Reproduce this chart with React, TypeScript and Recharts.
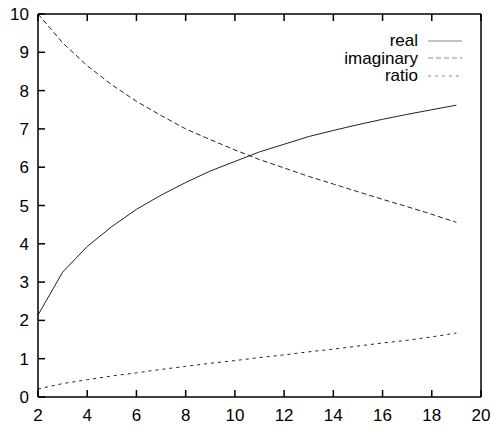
import React from 'react';
import { LineChart, Line, XAxis, YAxis } from 'recharts';

const xValues = [2, 3, 4, 5, 6, 7, 8, 9, 10, 11, 12, 13, 14, 15, 16, 17, 18, 19];
const realValues = [2.14, 3.26, 3.93, 4.45, 4.9, 5.27, 5.6, 5.9, 6.15, 6.4, 6.6, 6.8, 6.96, 7.11, 7.25, 7.38, 7.5, 7.62];
const imaginaryValues = [10, 9.25, 8.65, 8.15, 7.72, 7.35, 7.0, 6.72, 6.45, 6.2, 5.98, 5.76, 5.56, 5.36, 5.16, 4.97, 4.77, 4.56];
const ratioValues = [0.21, 0.35, 0.45, 0.55, 0.63, 0.72, 0.8, 0.88, 0.95, 1.03, 1.1, 1.18, 1.25, 1.33, 1.41, 1.48, 1.57, 1.67];
const xTicks = [2, 4, 6, 8, 10, 12, 14, 16, 18, 20];
const yTicks = [0, 1, 2, 3, 4, 5, 6, 7, 8, 9, 10];
const seriesNames = ['real', 'imaginary', 'ratio'];
const seriesDashes = ['', '5 3', '3 4'];

const data = xValues.map((x, i) => ({
  x,
  real: realValues[i],
  imaginary: imaginaryValues[i],
  ratio: ratioValues[i],
}));

const FONT = '"Liberation Sans", Arial, Helvetica, sans-serif';
const tickStyle = { fill: '#000', fontSize: 17, fontFamily: FONT };
const axisLine = { stroke: '#000', strokeWidth: 1.5 };
const tickLine = { stroke: '#000', strokeWidth: 1.5 };

export default function App() {
  return (
    <div style={{ position: 'absolute', left: 0, top: 0, width: 492, height: 426, background: '#fff' }}>
      <LineChart
        width={492}
        height={426}
        data={data}
        margin={{ top: 13, right: 10, bottom: 0, left: 0 }}
      >
        <XAxis
          xAxisId="bottom"
          dataKey="x"
          type="number"
          domain={[2, 20]}
          ticks={xTicks}
          interval={0}
          height={29}
          axisLine={axisLine}
          tickLine={tickLine}
          tickSize={-7}
          tickMargin={19}
          tick={tickStyle}
        />
        <XAxis
          xAxisId="top"
          orientation="top"
          dataKey="x"
          type="number"
          domain={[2, 20]}
          ticks={xTicks}
          interval={0}
          height={1}
          axisLine={axisLine}
          tickLine={tickLine}
          tickSize={-7}
          tickFormatter={() => ''}
        />
        <YAxis
          yAxisId="left"
          type="number"
          domain={[0, 10]}
          ticks={yTicks}
          interval={0}
          width={38}
          axisLine={axisLine}
          tickLine={tickLine}
          tickSize={-7}
          tickMargin={16}
          tick={tickStyle}
        />
        <YAxis
          yAxisId="right"
          orientation="right"
          type="number"
          domain={[0, 10]}
          ticks={yTicks}
          interval={0}
          width={1}
          axisLine={axisLine}
          tickLine={tickLine}
          tickSize={-7}
          tickFormatter={() => ''}
        />
        <Line xAxisId="bottom" yAxisId="left" type="linear" dataKey="real" name="real"
          stroke="#222" strokeWidth={1} dot={false} isAnimationActive={false} />
        <Line xAxisId="bottom" yAxisId="left" type="linear" dataKey="imaginary" name="imaginary"
          stroke="#222" strokeWidth={1} strokeDasharray="5 3" dot={false} isAnimationActive={false} />
        <Line xAxisId="bottom" yAxisId="left" type="linear" dataKey="ratio" name="ratio"
          stroke="#222" strokeWidth={1} strokeDasharray="3 4" dot={false} isAnimationActive={false} />
      </LineChart>
      <div style={{ position: 'absolute', left: 290, top: 32, width: 172, fontFamily: FONT, fontSize: 17, color: '#000' }}>
        {seriesNames.map((name, i) => (
          <div key={name} style={{ display: 'flex', alignItems: 'center', justifyContent: 'flex-end', height: 17.5 }}>
            <span style={{ lineHeight: '17.5px', display: 'block' }}>{name}</span>
            <svg width={34} height={10} style={{ marginLeft: 10, display: 'block' }}>
              <line x1={0} y1={5} x2={34} y2={5} stroke="#888" strokeWidth={1.2}
                strokeDasharray={seriesDashes[i] || undefined} />
            </svg>
          </div>
        ))}
      </div>
    </div>
  );
}
